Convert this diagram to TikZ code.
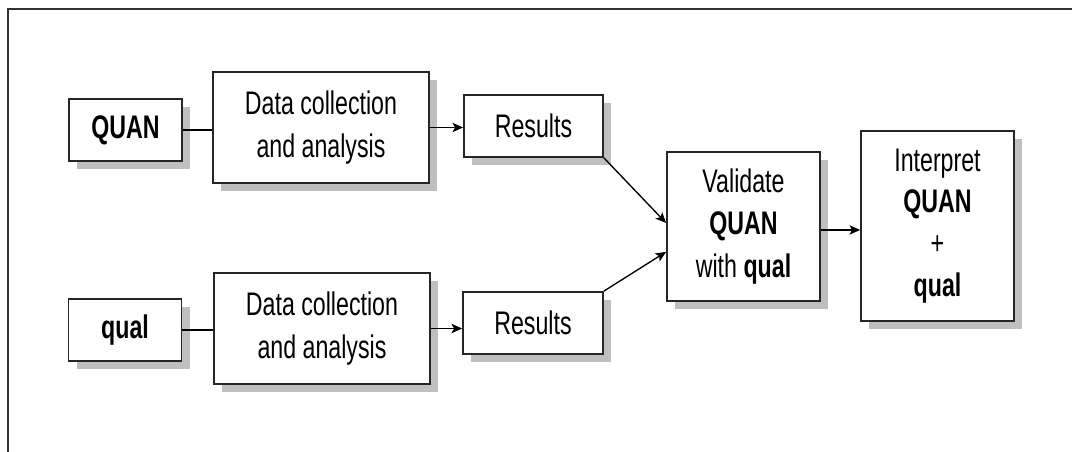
\documentclass[tikz,border=0pt]{standalone}
\usepackage{fontspec}
\setmainfont[FakeStretch=0.71]{Liberation Sans}
\usetikzlibrary{arrows.meta,shadows}
\begin{document}
\begin{tikzpicture}[x=0.75pt,y=-0.75pt,
  box/.style={draw=black!85,line width=1.3pt,fill=white,align=center,inner sep=0pt,
    font=\fontsize{24.5pt}{32pt}\selectfont,
    drop shadow={shadow xshift=6pt,shadow yshift=-6pt,fill=black!25,opacity=1}},
  link/.style={draw=black,line width=1pt},
  arr/.style={link,-{Stealth[length=8pt,width=7pt,inset=2pt]}},
  frame/.style={draw=black!80,line width=1.8pt}]
\useasboundingbox (0,0) rectangle (1072,452);
\draw[frame] (8,452) -- (8,9) -- (1072,9);
\node[box,minimum width=113*0.75pt,minimum height=62*0.75pt] (quan) at (125.5,130) {\textbf{QUAN}};
\node[box,minimum width=113*0.75pt,minimum height=62*0.75pt] (qual) at (125,330) {\textbf{qual}};
\node[box,minimum width=216*0.75pt,minimum height=111*0.75pt] (dc1) at (321,127.5) {Data collection\\and analysis};
\node[box,minimum width=216*0.75pt,minimum height=111*0.75pt] (dc2) at (322,328.5) {Data collection\\and analysis};
\node[box,minimum width=139*0.75pt,minimum height=62*0.75pt] (r1) at (533.5,126) {Results};
\node[box,minimum width=140*0.75pt,minimum height=62*0.75pt] (r2) at (533,323) {Results};
\node[box,minimum width=153*0.75pt,minimum height=149*0.75pt] (v) at (743.5,226.5) {Validate\\\textbf{QUAN}\\with \textbf{qual}};
\node[box,minimum width=153*0.75pt,minimum height=190*0.75pt,font=\fontsize{24.5pt}{31.3pt}\selectfont] (i) at (937.5,226) {Interpret\\\textbf{QUAN}\\+\\\textbf{qual}};
\draw[link] (quan.east) -- (quan.east -| dc1.west);
\draw[link] (qual.east) -- (qual.east -| dc2.west);
\draw[arr] (dc1.east) -- (dc1.east -| r1.west);
\draw[arr] (dc2.east) -- (dc2.east -| r2.west);
\draw[arr] (r1.south east) -- ([yshift=2.6pt]v.west);
\draw[arr] (r2.north east) -- ([yshift=-19pt]v.west);
\draw[arr] ([yshift=-2.6pt]v.east) -- ([yshift=-2.6pt]v.east -| i.west);
\end{tikzpicture}
\end{document}
